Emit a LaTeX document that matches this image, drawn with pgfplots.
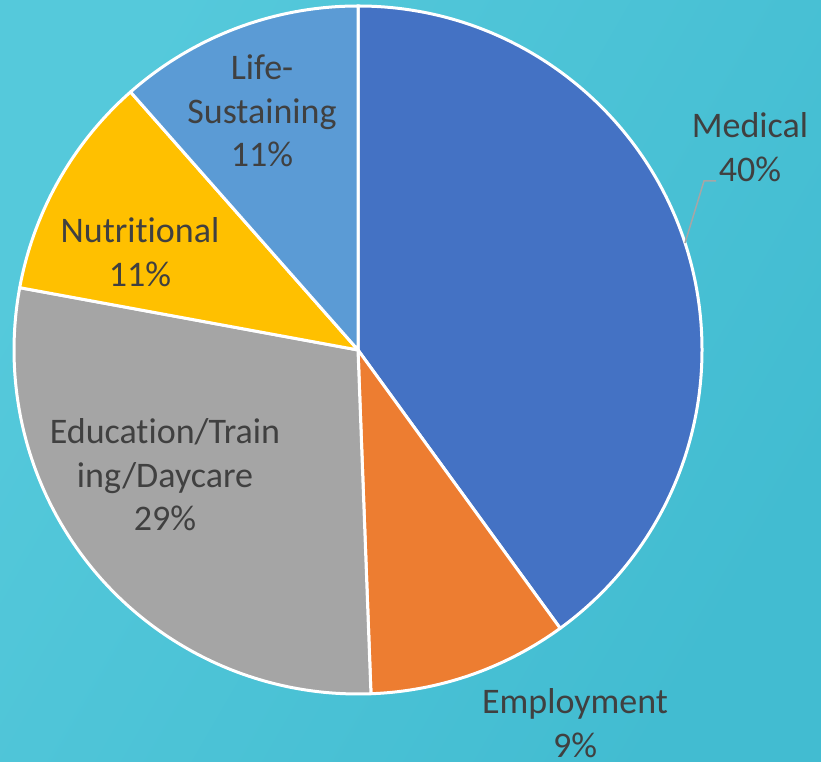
\documentclass[border=0pt]{standalone}
\usepackage{pgfplots}
\pgfplotsset{compat=1.18}
\usepackage{fontspec}
\setmainfont{Carlito}[RawFeature={-liga;-clig;-calt;-dlig;-rlig}]
\definecolor{medical}{HTML}{4472C4}
\definecolor{employment}{HTML}{ED7D31}
\definecolor{education}{HTML}{A5A5A5}
\definecolor{nutritional}{HTML}{FFC000}
\definecolor{life}{HTML}{5B9BD5}
\definecolor{txt}{HTML}{404040}
\definecolor{bgL}{HTML}{55C9DB}
\definecolor{bgR}{HTML}{42BCD1}
\definecolor{leader}{HTML}{A6A6A6}
\begin{document}
\begin{tikzpicture}
% data (percent shares)
\def\vMed{40}\def\vEmp{9.4}\def\vEdu{28.5}\def\vNut{10.6}\def\vLife{11.5}
\pgfmathsetmacro{\aA}{90}
\pgfmathsetmacro{\aB}{\aA-3.6*\vMed}
\pgfmathsetmacro{\aC}{\aB-3.6*\vEmp}
\pgfmathsetmacro{\aD}{\aC-3.6*\vEdu}
\pgfmathsetmacro{\aE}{\aD-3.6*\vNut}
\pgfmathsetmacro{\aF}{\aE-3.6*\vLife}
\begin{axis}[width=821pt,height=762pt,scale only axis,
  xmin=0,xmax=821,ymin=0,ymax=762,hide axis,clip=false]
\shade[left color=bgL,right color=bgR,shading angle=60] (axis cs:0,0) rectangle (axis cs:821,762);
\fill[medical,draw=white,line width=3pt,line join=round] (axis cs:358,412) -- ++(\aA:344pt) arc[start angle=\aA,end angle=\aB,radius=344pt] -- cycle;
\fill[employment,draw=white,line width=3pt,line join=round] (axis cs:358,412) -- ++(\aB:344pt) arc[start angle=\aB,end angle=\aC,radius=344pt] -- cycle;
\fill[education,draw=white,line width=3pt,line join=round] (axis cs:358,412) -- ++(\aC:344pt) arc[start angle=\aC,end angle=\aD,radius=344pt] -- cycle;
\fill[nutritional,draw=white,line width=3pt,line join=round] (axis cs:358,412) -- ++(\aD:344pt) arc[start angle=\aD,end angle=\aE,radius=344pt] -- cycle;
\fill[life,draw=white,line width=3pt,line join=round] (axis cs:358,412) -- ++(\aE:344pt) arc[start angle=\aE,end angle=\aF,radius=344pt] -- cycle;
\draw[leader,line width=1.5pt] (axis cs:685,519) -- (axis cs:704,581) -- (axis cs:716,581);
\tikzset{lbl/.style={text=txt,align=center,font=\fontsize{36}{43.5}\selectfont}}
\node[lbl] at (axis cs:750,615) {Medical\\40\%};
\node[lbl] at (axis cs:575,39) {Employment\\9\%};
\node[lbl] at (axis cs:165,287) {Education/Train\\ing/Daycare\\29\%};
\node[lbl] at (axis cs:140,510) {Nutritional\\11\%};
\node[lbl] at (axis cs:262,651) {Life-\\Sustaining\\11\%};
\end{axis}
\end{tikzpicture}
\end{document}
